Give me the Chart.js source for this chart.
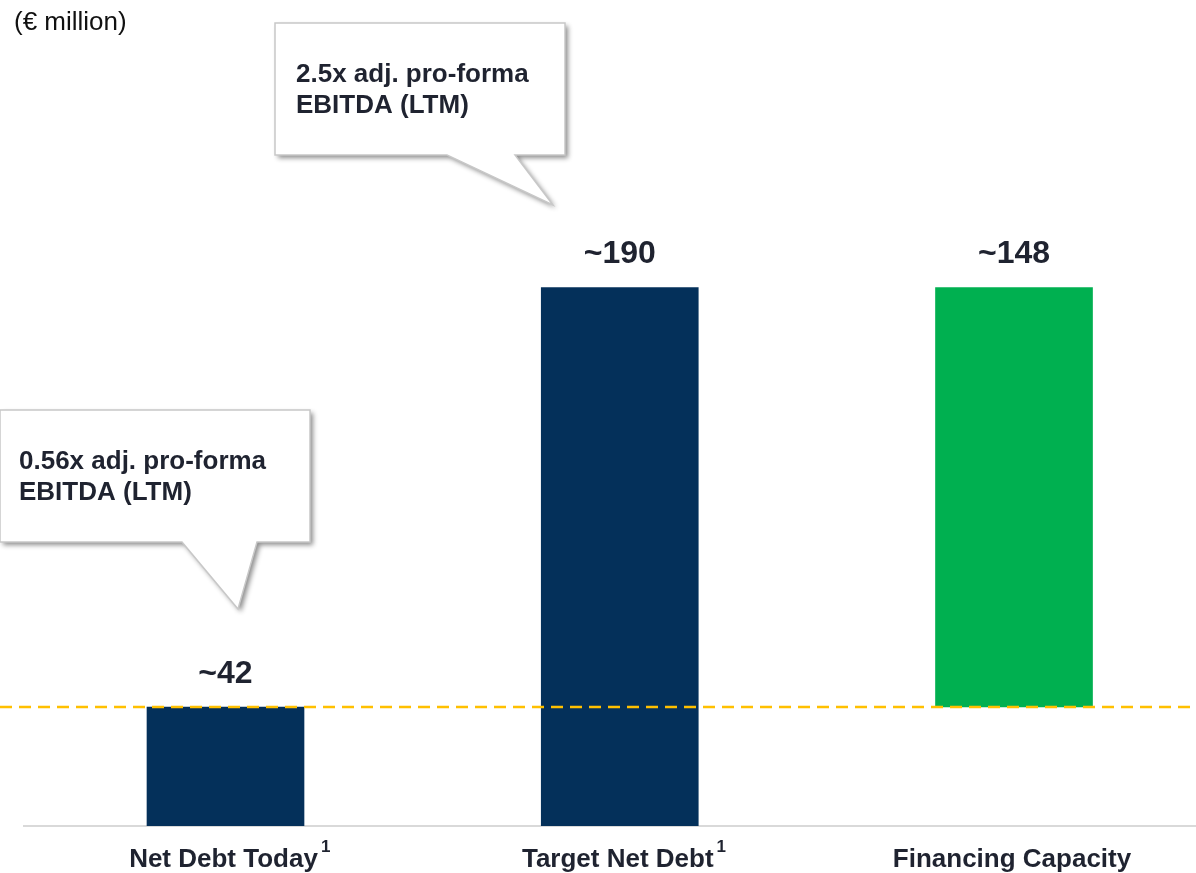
<!DOCTYPE html>
<html><head><meta charset="utf-8">
<script src="https://cdn.jsdelivr.net/npm/chart.js@4.4.1/dist/chart.umd.min.js"></script>
<style>html,body{margin:0;padding:0;background:#fff;}canvas{display:block;}</style>
</head><body>
<canvas id="c" width="1196" height="873"></canvas>
<script>
// ---- data ----
const categories = ['Net Debt Today', 'Target Net Debt', 'Financing Capacity'];
const footnotes = ['1', '1', ''];
const barStarts = [0, 0, 42];
const barEnds = [42, 190, 190];
const valueLabels = ['~42', '~190', '~148'];
const referenceLevel = 42;
const barColors = ['#04305A', '#04305A', '#00B050'];
const unitLabel = '(\u20AC million)';
const callout1Lines = ['0.56x adj. pro-forma', 'EBITDA (LTM)'];
const callout2Lines = ['2.5x adj. pro-forma', 'EBITDA (LTM)'];

const FONT = '"Liberation Sans", Arial, Helvetica, sans-serif';
const TEXT = '#1F2330';

function drawCallout(ctx, box, base, tip, lines, tx, ty, lh) {
  ctx.save();
  ctx.beginPath();
  ctx.moveTo(box.l, box.t);
  ctx.lineTo(box.r, box.t);
  ctx.lineTo(box.r, box.b);
  ctx.lineTo(base[1], box.b);
  ctx.lineTo(tip[0], tip[1]);
  ctx.lineTo(base[0], box.b);
  ctx.lineTo(box.l, box.b);
  ctx.closePath();
  ctx.shadowColor = 'rgba(0,0,0,0.45)';
  ctx.shadowBlur = 5;
  ctx.shadowOffsetX = 3;
  ctx.shadowOffsetY = 3;
  ctx.fillStyle = '#FFFFFF';
  ctx.fill();
  ctx.shadowColor = 'rgba(0,0,0,0)';
  ctx.strokeStyle = '#C8C8C8';
  ctx.lineWidth = 1.5;
  ctx.stroke();
  ctx.fillStyle = TEXT;
  ctx.font = 'bold 26px ' + FONT;
  ctx.textAlign = 'left';
  ctx.textBaseline = 'middle';
  lines.forEach((s, i) => ctx.fillText(s, tx, ty + i * lh));
  ctx.restore();
}

const overlay = {
  id: 'overlay',
  afterDatasetsDraw(chart) {
    const { ctx, scales: { x, y } } = chart;
    // dashed reference line
    ctx.save();
    ctx.strokeStyle = '#FFC000';
    ctx.lineWidth = 2.5;
    ctx.setLineDash([12, 7]);
    const yl = y.getPixelForValue(referenceLevel);
    ctx.beginPath();
    ctx.moveTo(0, yl);
    ctx.lineTo(chart.width, yl);
    ctx.stroke();
    ctx.restore();

    // value labels
    ctx.save();
    ctx.fillStyle = TEXT;
    ctx.font = 'bold 32px ' + FONT;
    ctx.textAlign = 'center';
    ctx.textBaseline = 'middle';
    valueLabels.forEach((s, i) => {
      ctx.fillText(s, x.getPixelForValue(i), y.getPixelForValue(barEnds[i]) - 33);
    });
    ctx.restore();

    // category labels with footnote marks
    ctx.save();
    ctx.fillStyle = TEXT;
    ctx.textBaseline = 'alphabetic';
    ctx.textAlign = 'left';
    categories.forEach((s, i) => {
      ctx.font = 'bold 26px ' + FONT;
      const w = ctx.measureText(s).width;
      const cx = x.getPixelForValue(i);
      const lx = cx - w / 2 - 2;
      ctx.fillText(s, lx, 867);
      if (footnotes[i]) {
        ctx.font = 'bold 17px ' + FONT;
        ctx.fillText(footnotes[i], lx + w + 3, 852);
      }
    });
    ctx.restore();

    // unit label
    ctx.save();
    ctx.fillStyle = '#111111';
    ctx.font = '26px ' + FONT;
    ctx.textAlign = 'left';
    ctx.textBaseline = 'middle';
    ctx.fillText(unitLabel, 14, 23);
    ctx.restore();

    // callouts
    drawCallout(ctx, { l: 0, t: 410, r: 310, b: 542 }, [182, 257], [238, 609], callout1Lines, 19, 462, 31);
    drawCallout(ctx, { l: 275, t: 23, r: 565, b: 155 }, [447, 515], [553, 205], callout2Lines, 296, 75, 31);
  }
};

new Chart(document.getElementById('c'), {
  type: 'bar',
  data: {
    datasets: [{
      data: categories.map((c, i) => ({ x: i, y: [barStarts[i], barEnds[i]] })),
      backgroundColor: barColors,
      borderWidth: 0,
      barThickness: 157,
      grouped: false
    }]
  },
  options: {
    responsive: false,
    devicePixelRatio: 1,
    animation: false,
    layout: { padding: { left: 24, right: 0, top: 146, bottom: 47 } },
    plugins: { legend: { display: false }, tooltip: { enabled: false } },
    scales: {
      x: {
        type: 'linear',
        offset: false,
        min: -0.5111,
        max: 2.4616,
        grid: { display: false, drawTicks: false, tickLength: 0 },
        ticks: { display: false, padding: 0 },
        border: { display: true, color: '#D9D9D9', width: 2 }
      },
      y: {
        display: false,
        min: 0,
        max: 240
      }
    }
  },
  plugins: [overlay]
});
</script>
</body></html>
